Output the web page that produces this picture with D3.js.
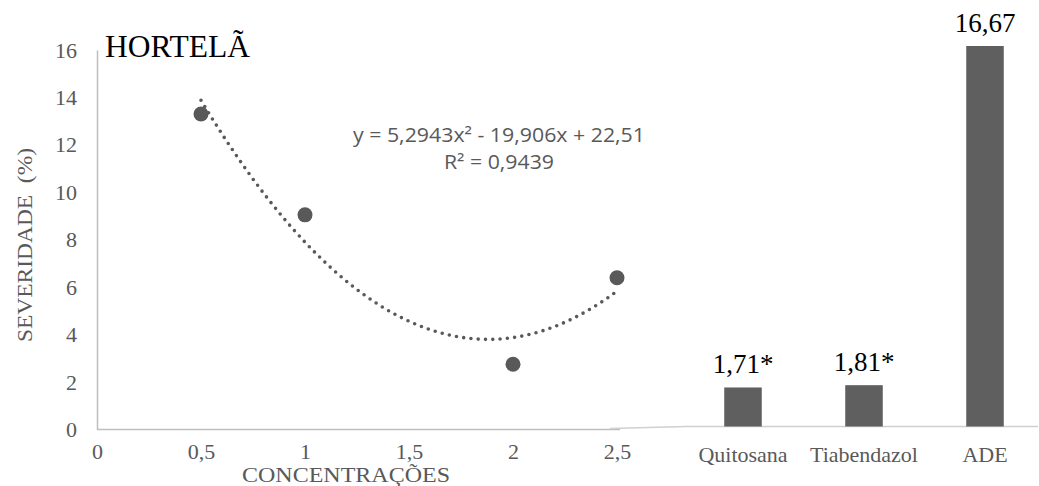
<!DOCTYPE html>
<html>
<head>
<meta charset="utf-8">
<script src="https://cdn.jsdelivr.net/npm/d3@7"></script>
<style>
  html, body { margin: 0; padding: 0; background: #fff; }
  svg { display: block; }
</style>
</head>
<body>
<svg id="chart" width="1039" height="486"></svg>
<script>
// ---- data ----
const concentrations = [0.5, 1, 2, 2.5];
const severity = [13.3, 9.05, 2.75, 6.4];
const xTicks = [0, 0.5, 1, 1.5, 2, 2.5];
const yTicks = [0, 2, 4, 6, 8, 10, 12, 14, 16];
const trendCoef = [5.2943, -19.906, 22.51]; // a, b, c  (y = a x^2 + b x + c)
const trendText = ["y = 5,2943x² - 19,906x + 22,51", "R² = 0,9439"];
const treatments = ["Quitosana", "Tiabendazol", "ADE"];
const treatmentValues = [1.71, 1.81, 16.67];
const treatmentLabels = ["1,71*", "1,81*", "16,67"];
const title = "HORTELÃ";

const svg = d3.select("#chart");
const gray = "#595959";
const serif = "'Liberation Serif', 'Times New Roman', serif";

// ---- left scatter panel ----
const x = d3.scaleLinear().domain([0, 2.5]).range([97, 617]);
const y = d3.scaleLinear().domain([0, 16]).range([429.5, 50]);
const fmt = d => String(d).replace(".", ",");

// y axis
const yAxis = svg.append("g").attr("transform", "translate(97,0)")
  .call(d3.axisLeft(y).tickValues(yTicks).tickSize(0).tickPadding(20).tickFormat(fmt));
yAxis.select(".domain").attr("stroke", "#bfbfbf").attr("stroke-width", 1.5);
yAxis.selectAll("text").attr("font-family", serif).attr("font-size", 22).attr("fill", gray);

// x axis
const xAxis = svg.append("g").attr("transform", "translate(0,429.5)")
  .call(d3.axisBottom(x).tickValues(xTicks).tickSize(0).tickPadding(14).tickFormat(fmt));
xAxis.select(".domain").attr("stroke", "#bfbfbf").attr("stroke-width", 1.5).attr("d", `M${x(0)},0H${x(2.5)+3}`);
xAxis.selectAll("text").attr("font-family", serif).attr("font-size", 22).attr("fill", gray);

// trendline
const trendX = d3.range(0.5, 2.5001, 0.01);
const trendLine = d3.line().x(d => x(d)).y(d => y(trendCoef[0]*d*d + trendCoef[1]*d + trendCoef[2])).curve(d3.curveBasis);
svg.append("path").datum(trendX)
  .attr("d", trendLine)
  .attr("fill", "none").attr("stroke", gray).attr("stroke-width", 3.6)
  .attr("stroke-linecap", "round").attr("stroke-dasharray", "0 7.3");

// points
svg.append("g").selectAll("circle").data(concentrations).join("circle")
  .attr("cx", d => x(d)).attr("cy", (d, i) => y(severity[i])).attr("r", 7.5)
  .attr("fill", gray);

// equation
svg.append("g").selectAll("text").data(trendText).join("text")
  .attr("x", 499).attr("y", (d, i) => 142 + i * 27)
  .attr("text-anchor", "middle")
  .attr("font-family", "'Open Sans', 'Liberation Sans', sans-serif")
  .attr("font-size", 19.5).attr("fill", gray)
  .attr("textLength", (d, i) => i === 0 ? 292 : 110).attr("lengthAdjust", "spacingAndGlyphs")
  .text(d => d);

// title
svg.append("text").attr("x", 105).attr("y", 57)
  .attr("font-family", serif).attr("font-size", 31.5).attr("fill", "#000")
  .text(title);

// axis titles
svg.append("text")
  .attr("transform", "translate(32,245) rotate(-90)")
  .attr("text-anchor", "middle")
  .attr("font-family", serif).attr("font-size", 21).attr("fill", gray)
  .attr("xml:space", "preserve")
  .attr("textLength", 194).attr("lengthAdjust", "spacingAndGlyphs")
  .text("SEVERIDADE  (%)");
svg.append("text").attr("x", 346).attr("y", 482)
  .attr("text-anchor", "middle")
  .attr("font-family", serif).attr("font-size", 22).attr("fill", gray)
  .attr("textLength", 208).attr("lengthAdjust", "spacingAndGlyphs")
  .text("CONCENTRAÇÕES");

// ---- right bar panel ----
const xb = d3.scaleBand().domain(treatments).range([682.5, 1045.5]).paddingInner(0.69).paddingOuter(0.345);
const yb = d3.scaleLinear().domain([0, 16.67]).range([426.5, 46]);

svg.append("path")
  .attr("d", `M610,428.5L687,426.5H1038`)
  .attr("fill", "none").attr("stroke", "#d0d0d0").attr("stroke-width", 1.5);

svg.append("g").selectAll("rect").data(treatments).join("rect")
  .attr("x", d => xb(d)).attr("width", xb.bandwidth())
  .attr("y", (d, i) => yb(treatmentValues[i]))
  .attr("height", (d, i) => yb(0) - yb(treatmentValues[i]))
  .attr("fill", "#5f5f5f");

svg.append("g").selectAll("text").data(treatments).join("text")
  .attr("x", d => xb(d) + xb.bandwidth() / 2)
  .attr("y", (d, i) => yb(treatmentValues[i]) - 14)
  .attr("text-anchor", "middle")
  .attr("font-family", serif).attr("font-size", 27).attr("fill", "#000")
  .text((d, i) => treatmentLabels[i]);

svg.append("g").selectAll("text").data(treatments).join("text")
  .attr("x", d => xb(d) + xb.bandwidth() / 2)
  .attr("y", 462)
  .attr("text-anchor", "middle")
  .attr("font-family", serif).attr("font-size", 22).attr("fill", gray)
  .text(d => d);
</script>
</body>
</html>
